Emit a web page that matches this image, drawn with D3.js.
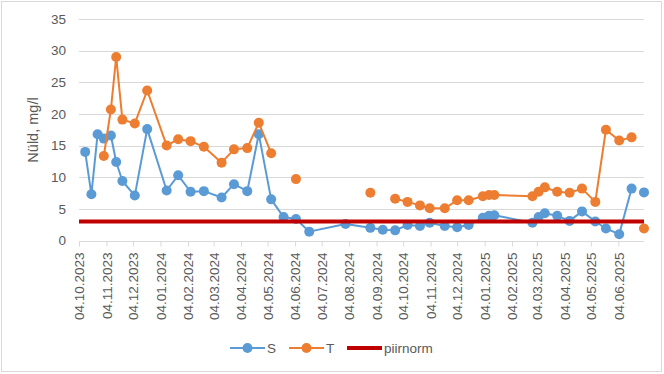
<!DOCTYPE html>
<html>
<head>
<meta charset="utf-8">
<script src="https://cdn.jsdelivr.net/npm/d3@7"></script>
<style>
  body { margin: 0; background: #fff; }
  text { font-family: "Liberation Sans", Arial, sans-serif; fill: #595959; }
</style>
</head>
<body>
<div id="chart"></div>
<script>
// sample dates (null row = gap in both series)
const dates = [
  '2023-10-11', '2023-10-18', '2023-10-25', '2023-11-01', '2023-11-09', '2023-11-15',
  '2023-11-22', '2023-12-06', '2023-12-20', '2024-01-11', '2024-01-24', '2024-02-07',
  '2024-02-22', '2024-03-13', '2024-03-27', '2024-04-11', '2024-04-24', '2024-05-08',
  '2024-05-22', '2024-06-05', '2024-06-20', '2024-07-31', '2024-08-28', '2024-09-11',
  '2024-09-25', '2024-10-09', '2024-10-23', '2024-11-03', '2024-11-20', '2024-12-04',
  '2024-12-17', '2025-01-02', '2025-01-09', '2025-01-15', '2025-02-27', '2025-03-06',
  '2025-03-13', '2025-03-27', '2025-04-10', '2025-04-24', '2025-05-09', '2025-05-21',
  '2025-06-05', '2025-06-19', '2025-06-26', '2025-07-03'
];
const sValues = [
  14.0, 7.3, 16.8, 16.1, 16.6, 12.4,
  9.4, 7.1, 17.6, 7.9, 10.3, 7.7,
  7.8, 6.8, 8.9, 7.8, 16.8, 6.5,
  3.7, 3.4, 1.4, 2.6, 2.0, 1.7,
  1.6, 2.45, 2.3, 2.8, 2.3, 2.1,
  2.45, 3.6, 3.9, 4.0, 2.8, 3.7,
  4.3, 3.9, 3.1, 4.6, 3.0, 1.9,
  1.0, 8.2, null, 7.6
];
const tValues = [
  null, null, null, 13.35, 20.7, 29.0,
  19.1, 18.5, 23.7, 15.0, 16.0, 15.7,
  14.8, 12.3, 14.4, 14.6, 18.6, 13.8,
  null, 9.7, null, null, 7.55, null,
  6.6, 6.1, 5.55, 5.1, 5.1, 6.35,
  6.35, 7.0, 7.2, 7.2, 7.0, 7.7,
  8.4, 7.7, 7.55, 8.2, 6.1, 17.5,
  15.8, 16.3, null, 1.9
];
const normDates = ['2023-10-04', '2025-07-03'];
const normValues = [3, 3];
const tickDates = [
  '2023-10-04', '2023-11-04', '2023-12-04', '2024-01-04', '2024-02-04', '2024-03-04',
  '2024-04-04', '2024-05-04', '2024-06-04', '2024-07-04', '2024-08-04', '2024-09-04',
  '2024-10-04', '2024-11-04', '2024-12-04', '2025-01-04', '2025-02-04', '2025-03-04',
  '2025-04-04', '2025-05-04', '2025-06-04'
];
const yTicks = [0, 5, 10, 15, 20, 25, 30, 35];

const width = 664, height = 374;
const parse = d3.utcParse('%Y-%m-%d');
const fmt = d3.utcFormat('%d.%m.%Y');

const svg = d3.select('#chart').append('svg')
  .attr('width', width)
  .attr('height', height);

// outer border
svg.append('rect')
  .attr('x', 1.5).attr('y', 1.5)
  .attr('width', width - 4).attr('height', height - 4)
  .attr('fill', 'white')
  .attr('stroke', '#d9d9d9');

const x = d3.scaleUtc()
  .domain([parse('2023-10-04'), parse('2025-07-03')])
  .range([79, 644]);
const y = d3.scaleLinear()
  .domain([0, 35])
  .range([240.5, 19]);

// gridlines
svg.append('g')
  .selectAll('line')
  .data(yTicks.slice(1))
  .join('line')
  .attr('x1', 79).attr('x2', 644)
  .attr('y1', d => Math.round(y(d)) + 0.5)
  .attr('y2', d => Math.round(y(d)) + 0.5)
  .attr('stroke', '#d9d9d9')
  .attr('stroke-width', 1);

// y axis labels
const yAxis = svg.append('g')
  .attr('transform', 'translate(79,0)')
  .call(d3.axisLeft(y).tickValues(yTicks).tickSize(0).tickPadding(13));
yAxis.select('.domain').remove();
yAxis.selectAll('text')
  .style('font-size', '13.5px')
  .attr('fill', '#595959');

// x axis
const xAxis = svg.append('g')
  .attr('transform', `translate(0,${Math.round(y(0)) + 0.5})`)
  .call(d3.axisBottom(x)
    .tickValues(tickDates.map(parse))
    .tickFormat(fmt)
    .tickSize(5)
    .tickSizeOuter(0));
xAxis.select('.domain').attr('stroke', '#d9d9d9').attr('d', 'M79,0H644');
xAxis.selectAll('.tick line').attr('stroke', '#d9d9d9');
xAxis.selectAll('text')
  .style('font-size', '13.5px')
  .attr('fill', '#595959')
  .attr('text-anchor', 'end')
  .attr('transform', 'rotate(-90)')
  .attr('x', -11)
  .attr('y', 0)
  .attr('dy', '0.35em');

// y axis title
svg.append('text')
  .attr('transform', 'translate(38,130) rotate(-90)')
  .attr('text-anchor', 'middle')
  .style('font-size', '14.5px')
  .text('Nüld, mg/l');

function drawSeries(values, color) {
  const rows = dates.map((d, i) => ({ date: parse(d), v: values[i] }));
  const line = d3.line()
    .defined(d => d.v != null)
    .x(d => x(d.date))
    .y(d => y(d.v));
  svg.append('path')
    .datum(rows)
    .attr('fill', 'none')
    .attr('stroke', color)
    .attr('stroke-width', 2)
    .attr('stroke-linejoin', 'round')
    .attr('d', line);
  svg.append('g')
    .selectAll('circle')
    .data(rows.filter(d => d.v != null))
    .join('circle')
    .attr('cx', d => x(d.date))
    .attr('cy', d => y(d.v))
    .attr('r', 5)
    .attr('fill', color);
}

drawSeries(sValues, '#5B9BD5');
drawSeries(tValues, '#ED7D31');

// piirnorm
const normRows = normDates.map((d, i) => ({ date: parse(d), v: normValues[i] }));
svg.append('path')
  .datum(normRows)
  .attr('fill', 'none')
  .attr('stroke', '#C00000')
  .attr('stroke-width', 4)
  .attr('d', d3.line().x(d => x(d.date)).y(d => y(d.v)));

// legend
const legendItems = [
  { name: 'S', color: '#5B9BD5', x: 230, marker: true },
  { name: 'T', color: '#ED7D31', x: 289, marker: true },
  { name: 'piirnorm', color: '#C00000', x: 347, marker: false }
];
const legend = svg.append('g').attr('transform', 'translate(0,348)');
legendItems.forEach(item => {
  legend.append('line')
    .attr('x1', item.x).attr('x2', item.x + 35)
    .attr('y1', 0).attr('y2', 0)
    .attr('stroke', item.color)
    .attr('stroke-width', item.marker ? 2 : 4);
  if (item.marker) {
    legend.append('circle')
      .attr('cx', item.x + 17.5).attr('cy', 0)
      .attr('r', 5).attr('fill', item.color);
  }
  legend.append('text')
    .attr('x', item.x + 37)
    .attr('y', 0)
    .attr('dy', '0.35em')
    .style('font-size', '13.5px')
    .text(item.name);
});
</script>
</body>
</html>
